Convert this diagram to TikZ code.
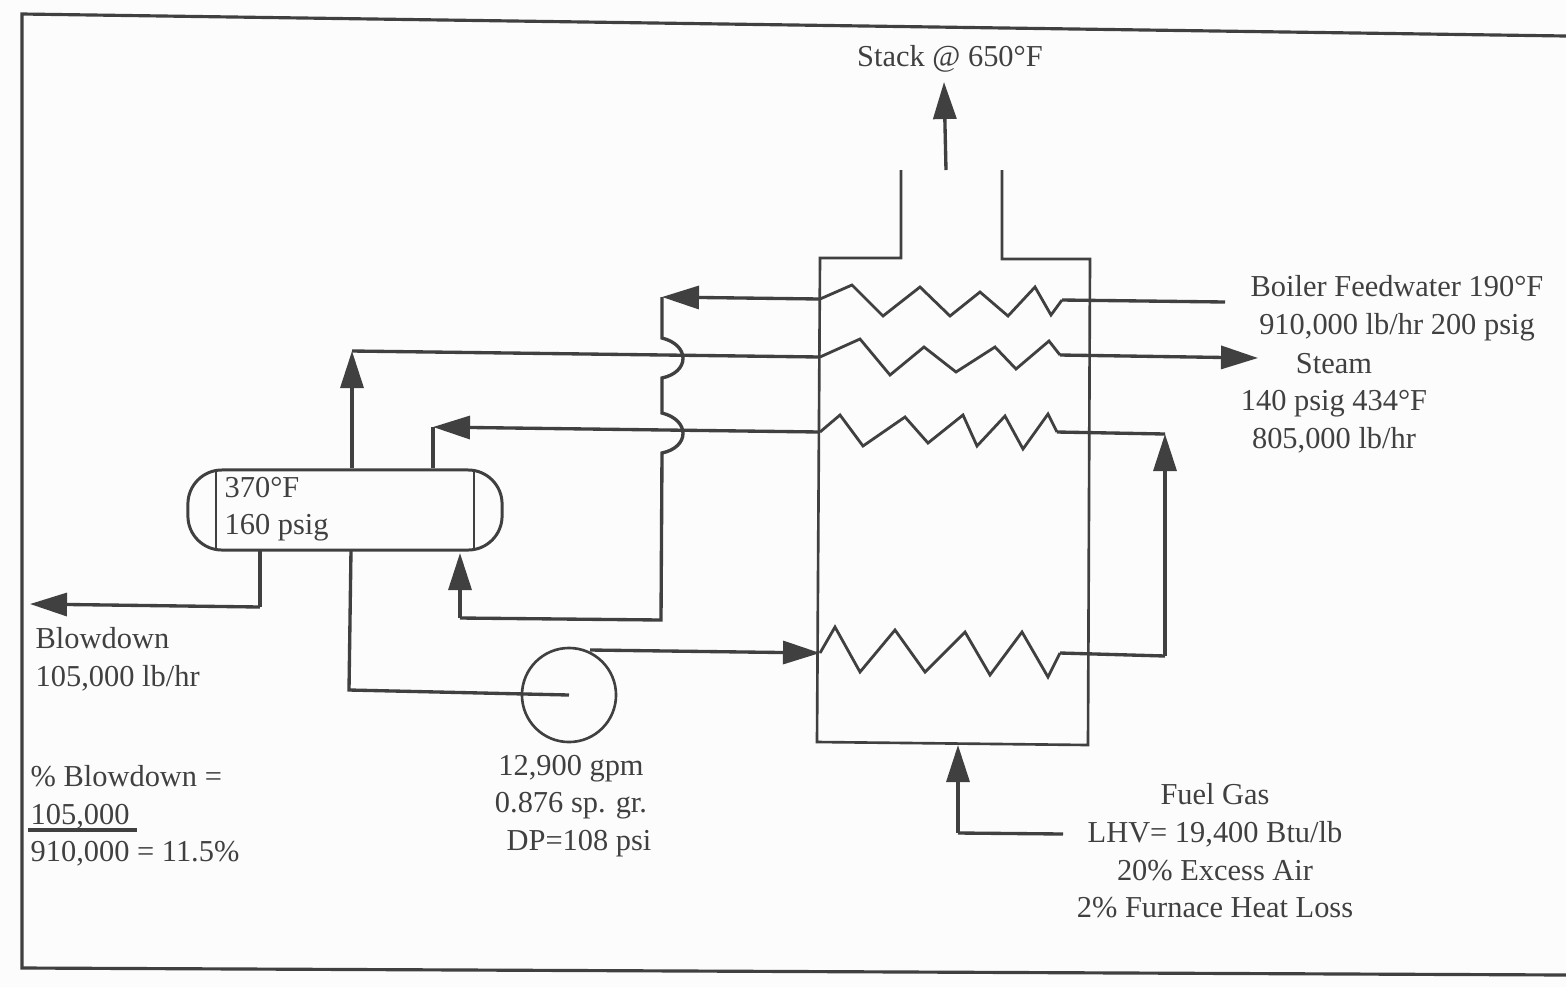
\documentclass[tikz,border=0pt]{standalone}
\usepackage{fontspec}
\setmainfont{Liberation Serif}
\usepackage{tikz}
\usetikzlibrary{arrows.meta,calc}
\definecolor{ink}{gray}{0.25}
\definecolor{paper}{gray}{0.99}
\tikzset{
  pipe/.style={draw=ink, line width=0.95pt},
  flow/.style={pipe, -{Triangle[length=0.37cm,width=0.23cm]}},
  coil/.style={draw=ink, line width=0.8pt},
  lbl/.style={text=ink, font=\fontsize{8.65}{10.7}\selectfont, inner sep=0pt, align=center},
  lbll/.style={lbl, align=left, anchor=west}
}
\begin{document}
\begin{tikzpicture}[x=0.01cm,y=-0.01cm]
\useasboundingbox[fill=paper] (0,0) rectangle (1566,987);
% page frame
\draw[draw=ink, line width=0.9pt] (1566,36) -- (22,14) -- (22,968) -- (1566,975);
% furnace
\draw[pipe, line width=0.75pt] (901,170) -- (901,258) -- (820,258) -- (817,742) -- (1088,745) -- (1090,259) -- (1002,259) -- (1002,170);
\coordinate (c1l) at (820,299);
\coordinate (c1r) at (1062,300);
\coordinate (c2l) at (820,357);
\coordinate (c2r) at (1060,355);
\coordinate (c3l) at (820,432);
\coordinate (c3r) at (1057,432);
\coordinate (c4l) at (820,653);
\coordinate (c4r) at (1060,653);
% coils
\draw[coil] (c1l) -- (852,285) -- (883,316) -- (920,287) -- (950,316) -- (980,292) -- (1008,316) -- (1035,287) -- (1051,315) -- (c1r);
\draw[coil] (c2l) -- (860,339) -- (890,375) -- (924,347) -- (956,372) -- (995,347) -- (1016,369) -- (1049,341) -- (c2r);
\draw[coil] (c3l) -- (840,415) -- (863,446) -- (905,417) -- (928,443) -- (963,415) -- (977,446) -- (1005,416) -- (1023,449) -- (1048,414) -- (c3r);
\draw[coil] (c4l) -- (835,627) -- (860,672) -- (895,630) -- (925,672) -- (965,632) -- (990,675) -- (1022,632) -- (1048,677) -- (c4r);
% drum and pump
\node[draw=ink, line width=0.85pt, rounded corners=0.34cm, minimum width=3.14cm, minimum height=0.8cm, inner sep=0pt] (drum) at (345,510) {};
\draw[coil] (216,470) -- (216,550);
\draw[coil] (474,471) -- (474,550);
\node[lbll] (drumtext) at (224,509) {370°F\\160 psig};
\node[draw=ink, line width=0.75pt, circle, minimum size=0.94cm, inner sep=0pt] (pump) at (569,695) {};
% flows
\coordinate (stackbase) at (946,170);
\coordinate (stacktop) at (944,82);
\draw[flow] (stackbase) -- (stacktop);
\coordinate (feedin) at (1225,302);
\draw[pipe] (feedin) -- (c1r);
\coordinate (steamout) at (1258,358);
\draw[flow] (c2r) -- (steamout);
\coordinate (c1end) at (662,297);
\draw[flow] (c1l) -- (c1end);
\coordinate (riser) at (352,351);
\draw[pipe] (c2l) -- (riser);
\draw[flow] (drum.north -| riser) -- (riser);
\coordinate (ret) at (433,427);
\draw[flow] (c3l) -- (ret);
\draw[pipe] (drum.north -| ret) -- (ret);
\coordinate (lowr) at (1165,656);
\coordinate (upr) at (1165,434);
\draw[pipe] (c3r) -- (upr);
\draw[pipe] (c4r) -- (lowr);
\draw[flow] (lowr) -- (upr);
% downcomer with the two humps
\coordinate (dc) at (661,620);
\coordinate (drumin) at (460,553);
\draw[pipe] (c1end) -- (662,338) .. controls (690,345) and (690,372) .. (662,378) -- (662,413) .. controls (690,420) and (690,447) .. (662,453) -- (dc) -- (460,618);
\draw[flow] (460,618) -- (drumin);
% blowdown and pump lines
\coordinate (bdown) at (30,604);
\draw[pipe] (260,550) -- (260,607);
\draw[flow] (260,607) -- (bdown);
\draw[pipe] (351,550) -- (349,690) -- (pump.center);
\draw[flow] (590,650) -- (c4l);
% fuel
\coordinate (fuelin) at (1063,834);
\coordinate (fuelup) at (958,745);
\draw[pipe] (fuelin) -- (958,833);
\draw[flow] (958,833) -- (fuelup);
% labels
\node[lbl] (stacklbl) at (950,59) {Stack @ 650°F};
\node[lbl] (feedlbl) at (1397,308) {Boiler Feedwater 190°F\\910,000 lb/hr 200 psig};
\node[lbl] (steamlbl) at (1334,403) {Steam\\140 psig 434°F\\805,000 lb/hr};
\node[lbll] (bdlbl) at (35,659) {Blowdown\\105,000 lb/hr};
\node[lbll] (pctlbl) at (30,816) {\% Blowdown =\\105,000\\910,000 = 11.5\%};
\draw[pipe] (28,830) -- (137,830);
\node[lbl] (pumplbl) at (571,806) {12,900 gpm\\0.876 sp. gr.\\\hspace*{0.16cm}DP=108 psi};
\node[lbl] (fuellbl) at (1215,851) {Fuel Gas\\LHV= 19,400 Btu/lb\\20\% Excess Air\\2\% Furnace Heat Loss};
\end{tikzpicture}
\end{document}
